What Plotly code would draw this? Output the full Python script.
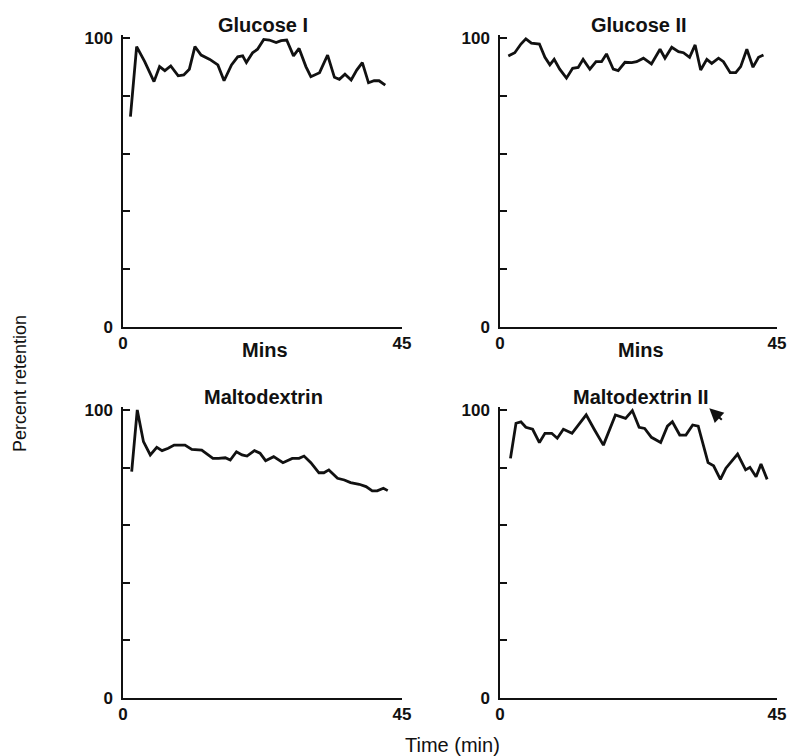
import plotly.graph_objects as go

# ---------------- data ----------------
glucose1_t = [1.2, 2.2, 3.5, 5.0, 5.9, 6.75, 7.7, 8.9, 9.8, 10.7, 11.6, 12.6, 14.0, 15.3, 16.3,
              17.5, 18.5, 19.3, 19.9, 20.9, 21.7, 22.7, 23.6, 24.7, 25.5, 26.4, 27.5, 28.4,
              29.5, 30.3, 31.7, 33.0, 34.1, 34.9, 35.8, 36.8, 37.7, 38.6, 39.6, 40.5, 41.3, 42.3]
glucose1_v = [72.8, 97.0, 91.8, 84.9, 90.1, 88.7, 90.3, 86.9, 87.2, 89.2, 97.0, 94.1, 92.6, 90.7,
              85.2, 90.7, 93.5, 93.8, 91.5, 94.9, 96.1, 99.5, 99.3, 98.4, 99.1, 99.3, 93.8, 96.4,
              90.1, 86.6, 88.0, 94.1, 86.4, 85.7, 87.5, 85.5, 88.9, 91.5, 84.5, 85.2, 85.2, 83.7]

glucose2_t = [1.35, 2.4, 3.4, 4.2, 5.1, 6.4, 7.3, 8.1, 8.8, 9.7, 10.8, 11.8, 12.7, 13.5, 14.6,
              15.6, 16.5, 17.3, 18.4, 19.2, 20.3, 21.4, 22.2, 23.3, 24.6, 26.0, 26.8, 27.9,
              29.0, 29.8, 30.8, 31.7, 32.6, 33.6, 34.4, 35.5, 36.3, 37.4, 38.3, 39.1, 40.1,
              41.1, 42.0, 42.8]
glucose2_v = [93.8, 94.9, 97.9, 99.7, 98.2, 97.9, 93.3, 90.7, 92.6, 89.2, 86.1, 89.5, 89.8, 92.6,
              89.2, 91.8, 91.8, 94.5, 89.2, 88.7, 91.6, 91.5, 91.8, 93.0, 91.0, 96.1, 93.0, 96.8,
              95.3, 94.9, 93.3, 97.6, 88.9, 92.6, 91.2, 93.0, 91.8, 88.0, 88.0, 90.1, 96.1,
              89.9, 93.3, 94.1]

malto1_t = [1.4, 2.3, 3.3, 4.4, 5.45, 6.3, 7.3, 8.25, 10.0, 11.1, 12.7, 14.5, 15.4, 16.5, 17.3,
            18.3, 19.2, 20.0, 21.2, 22.1, 23.0, 24.3, 25.8, 27.3, 28.4, 29.2, 30.3, 31.6, 32.4,
            33.2, 34.6, 35.7, 36.7, 38.1, 39.2, 40.2, 41.0, 42.0, 42.7]
malto1_v = [78.6, 100.0, 89.0, 84.4, 87.0, 85.9, 86.7, 87.8, 87.8, 86.3, 86.1, 83.2, 83.2, 83.4,
            82.6, 85.5, 84.4, 84.0, 85.9, 85.0, 82.4, 83.8, 81.7, 83.2, 83.2, 84.0, 81.7, 78.2,
            78.2, 79.2, 76.3, 75.7, 74.8, 74.2, 73.4, 71.9, 71.9, 72.8, 72.0]

malto2_t = [1.7, 2.6, 3.4, 4.2, 5.3, 6.4, 7.3, 8.4, 9.3, 10.3, 11.7, 14.0, 15.3, 16.8, 18.75,
            20.4, 21.5, 22.6, 23.5, 24.6, 26.1, 27.2, 28.0, 29.2, 30.2, 31.3, 32.2, 33.0, 33.8,
            34.7, 35.8, 36.7, 38.6, 39.9, 40.6, 41.6, 42.4, 43.4]
malto2_v = [83.2, 95.4, 95.9, 94.0, 93.3, 88.7, 91.9, 91.9, 90.2, 93.3, 91.9, 98.3, 93.3, 87.8,
            98.3, 97.1, 99.8, 94.0, 93.6, 90.5, 88.7, 94.4, 95.9, 91.3, 91.3, 94.8, 94.4, 87.8,
            81.7, 80.6, 75.9, 79.8, 84.7, 79.2, 80.1, 76.8, 81.2, 75.9]

panel_titles = ["Glucose I", "Glucose II", "Maltodextrin", "Maltodextrin II"]
x_ticks = [0, 45]
x_ticktext = ["0", "45"]
y_ticks = [0, 20, 40, 60, 80, 100]
y_ticktext = ["0", "", "", "", "", "100"]

series = [(glucose1_t, glucose1_v), (glucose2_t, glucose2_v),
          (malto1_t, malto1_v), (malto2_t, malto2_v)]

# ---------------- layout geometry (page pixels -> paper) ----------------
W, H = 790, 756
INK = "#111111"

def px(x):
    return x / W

def py(y):
    return 1 - y / H

x_dom = [[px(123), px(402)], [px(500), px(777)], [px(123), px(402)], [px(500), px(777)]]
y_dom_top = [py(327), py(35.1)]
y_dom_bot = [py(698), py(407.1)]
y_dom = [y_dom_top, y_dom_top, y_dom_bot, y_dom_bot]

fig = go.Figure()
layout = dict(
    width=W, height=H,
    margin=dict(l=0, r=0, t=0, b=0, autoexpand=False),
    paper_bgcolor="white", plot_bgcolor="white",
    showlegend=False,
    font=dict(family="Liberation Sans, Arial, sans-serif", color=INK),
)

tickfont = dict(family="Liberation Sans, Arial, sans-serif", size=17, color=INK, weight="bold")

for i, (t, v) in enumerate(series):
    n = "" if i == 0 else str(i + 1)
    fig.add_trace(go.Scatter(x=t, y=v, mode="lines", xaxis="x" + n, yaxis="y" + n,
                             line=dict(color=INK, width=2.8), hoverinfo="skip"))
    layout["xaxis" + n] = dict(
        domain=x_dom[i], anchor="y" + n, range=[0, 45],
        tickmode="array", tickvals=x_ticks, ticktext=x_ticktext,
        ticks="inside", ticklen=13, tickwidth=1.5, tickcolor=INK,
        showline=True, linewidth=1.5, linecolor=INK,
        showgrid=False, zeroline=False, tickfont=tickfont, automargin=False,
        ticklabeloverflow="allow",
    )
    layout["yaxis" + n] = dict(
        domain=y_dom[i], anchor="x" + n, range=[0, 101],
        tickmode="array", tickvals=y_ticks, ticktext=y_ticktext,
        ticks="inside", ticklen=7, tickwidth=1.5, tickcolor=INK,
        showline=True, linewidth=1.5, linecolor=INK,
        showgrid=False, zeroline=False, tickfont=tickfont, automargin=False,
        ticklabelstandoff=5, ticklabeloverflow="allow",
    )

fig.update_layout(**layout)

title_font = dict(family="Liberation Sans, Arial, sans-serif", size=20, color=INK, weight="bold")
title_pos = [(263, 25), (639, 25), (263, 397), (641, 397)]
for (x, y), txt in zip(title_pos, panel_titles):
    fig.add_annotation(x=px(x), y=py(y), xref="paper", yref="paper", text=txt,
                       showarrow=False, xanchor="center", yanchor="middle", font=title_font)

for x in (264.5, 641):
    fig.add_annotation(x=px(x), y=py(349.5), xref="paper", yref="paper", text="Mins",
                       showarrow=False, xanchor="center", yanchor="middle", font=title_font)

fig.add_annotation(x=px(20), y=py(384), xref="paper", yref="paper", text="Percent retention",
                   textangle=-90, showarrow=False, xanchor="center", yanchor="middle",
                   font=dict(family="Liberation Sans, Arial, sans-serif", size=18, color=INK))
fig.add_annotation(x=px(452), y=py(745), xref="paper", yref="paper", text="Time (min)",
                   showarrow=False, xanchor="center", yanchor="middle",
                   font=dict(family="Liberation Sans, Arial, sans-serif", size=20, color=INK))

# arrow in the Maltodextrin II panel
fig.add_annotation(x=34.0, y=100.6, xref="x4", yref="y4", text="", showarrow=True,
                   ax=14, ay=13, arrowhead=2, arrowsize=1.4, arrowwidth=2, arrowcolor=INK)

# remove the default 8px page margin so the figure fills the 790x756 window
fig.write_html("out.html", config={"displayModeBar": False},
               post_script="document.body.style.margin='0';")
